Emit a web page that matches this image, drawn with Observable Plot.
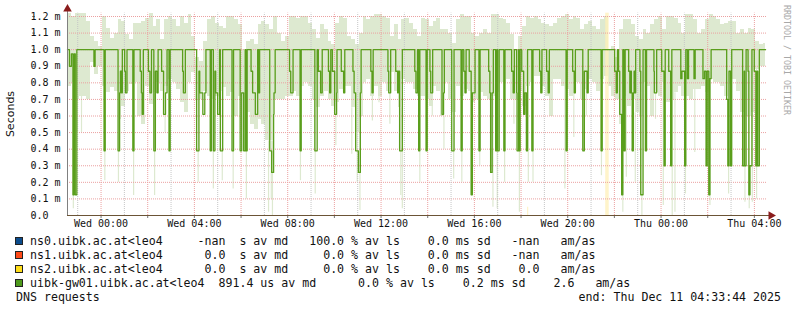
<!DOCTYPE html>
<html>
<head>
<meta charset="utf-8">
<script src="https://cdn.jsdelivr.net/npm/d3@7"></script>
<script src="https://cdn.jsdelivr.net/npm/@observablehq/plot@0.6"></script>
<style>
  html, body { margin: 0; padding: 0; background: #fff; }
  #wrap { position: relative; width: 797px; height: 311px; overflow: hidden; background: #fff; }
  #chart svg { display: block; }
  .mono { font-family: "DejaVu Sans Mono", monospace; }
  #ylabel { position: absolute; left: -39.5px; top: 106.5px; width: 100px; height: 14px; line-height: 14px;
            text-align: center; transform: rotate(-90deg); font: 11px "DejaVu Sans", sans-serif; color: #111; }
  #credit { position: absolute; left: 782px; top: 5px; writing-mode: vertical-rl; font: 8.3px "DejaVu Sans Mono", monospace;
            color: #a8a8a8; line-height: 9px; white-space: pre; }
  .lrow { position: absolute; left: 30px; height: 14px; line-height: 14px; font-size: 11.6px; white-space: pre; color: #111; }
  .lbox { position: absolute; left: 15px; width: 6px; height: 6px; border: 1px solid #222; }
</style>
</head>
<body>
<div id="wrap">
  <div id="chart"></div>
  <div id="ylabel">Seconds</div>
  <div id="credit">RRDTOOL / TOBI OETIKER</div>
  <div id="legend"></div>
</div>
<script>
// ---------- data ----------
const startMs = Date.UTC(2025, 11, 9, 22, 33, 44);   // Tue Dec 9 22:33:44
const endMs   = Date.UTC(2025, 11, 11, 4, 33, 44);   // Thu Dec 11 04:33:44

// median of uibk-gw01 (ms), change points in minutes since start
const medMinute = [0,5,10,14,17,20,24,68,71,94,97,130,134,136,139,141,147,149,153,168,171,187,190,192,195,208,212,216,222,226,230,233,242,247,252,256,261,264,296,298,303,332,338,340,348,353,356,367,370,375,379,381,386,391,393,399,423,427,444,448,453,457,459,462,472,476,483,489,492,494,520,525,530,531,534,571,574,580,598,601,636,642,645,651,655,671,674,677,681,687,692,693,704,710,713,734,737,741,748,753,755,780,783,786,824,826,831,844,849,851,854,861,893,896,900,903,906,922,925,932,934,939,963,967,969,988,994,1012,1015,1019,1022,1025,1033,1038,1041,1048,1058,1061,1083,1086,1088,1092,1095,1101,1104,1106,1110,1122,1125,1142,1146,1149,1155,1156,1160,1161,1164,1168,1173,1176,1180,1183,1194,1197,1214,1217,1220,1232,1236,1239,1282,1285,1299,1303,1306,1325,1329,1336,1339,1372,1375,1407,1411,1414,1417,1420,1425,1428,1431,1434,1443,1446,1448,1450,1452,1455,1457,1459,1461,1472,1474,1480,1486,1489,1508,1509,1515,1528,1534,1537,1546,1551,1554,1577,1580,1587,1590,1594,1597,1611,1614,1634,1638,1642,1645,1649,1652,1655,1695,1698,1701,1705,1708,1736,1740,1741,1745,1750,1752,1755,1760,1766,1770,1773,1775,1779,1795];
const medValue  = [1.0,0.9,0.975,0.125,0.975,0.125,1.0,0.9,1.0,0.39,1.0,0.39,0.74,0.87,0.74,1.0,0.87,0.74,1.0,0.39,1.0,0.87,0.74,0.61,1.0,0.87,0.74,1.0,0.39,0.87,0.74,1.0,0.87,0.61,0.74,1.0,0.39,1.0,0.87,0.74,1.0,0.39,0.87,0.74,0.61,0.74,1.0,0.39,1.0,0.39,0.87,0.74,0.61,1.0,0.39,1.0,0.39,1.0,0.39,0.74,0.39,1.0,0.39,1.0,0.87,0.74,0.61,1.0,0.74,1.0,0.39,0.26,0.61,0.74,1.0,0.87,0.74,1.0,0.39,1.0,0.39,1.0,0.87,0.74,1.0,0.87,0.74,1.0,0.87,0.61,0.74,1.0,0.87,0.74,1.0,0.87,0.74,0.39,0.26,0.74,1.0,0.87,0.74,1.0,0.87,0.74,1.0,0.87,0.74,0.87,0.39,1.0,0.87,0.74,1.0,0.39,1.0,0.39,1.0,0.87,0.74,1.0,0.61,0.74,1.0,0.39,1.0,0.39,1.0,0.87,0.74,1.0,0.87,0.125,0.74,1.0,0.39,1.0,0.87,0.74,0.26,0.74,1.0,0.39,1.0,0.39,1.0,0.39,1.0,0.87,0.74,1.0,0.74,0.39,1.0,0.39,1.0,0.87,0.61,0.74,0.39,1.0,0.39,1.0,0.87,0.74,1.0,0.87,0.74,1.0,0.39,1.0,0.87,0.74,1.0,0.39,0.87,0.74,1.0,0.39,1.0,0.87,0.74,1.0,0.87,0.61,0.125,1.0,0.39,1.0,0.87,0.74,0.87,0.74,0.39,0.74,0.87,0.74,1.0,0.87,0.125,1.0,0.39,1.0,0.87,0.74,1.0,0.87,0.30,1.0,0.87,0.30,1.0,0.825,0.87,0.30,1.0,0.825,1.0,0.825,1.0,0.825,0.87,0.30,0.87,0.125,0.825,1.0,0.70,0.30,0.87,0.30,1.0,0.30,0.87,0.30,1.0,0.87,0.125,0.30,1.0,0.87,0.30,0.87,0.30,1.0,1.0];

// smoke (ping spread) per 10-minute column, ms
const smokeHi = [1.22,1.2,1.22,1.22,1.22,1.17,1.08,1.05,1.02,1.2,1.13,1.07,1.1,1.18,1.17,1.09,1.06,1.16,1.16,1.17,1.19,1.22,1.14,1.18,
  1.06,1.18,1.2,1.18,1.14,1.2,1.16,1.21,1.08,0.95,0.93,1.05,1.18,1.2,1.16,1.14,1.13,1.2,1.2,1.18,1.15,1.0,1.05,1.06,1.03,
  1.15,1.17,1.15,1.12,1.2,1.1,1.05,1.08,1.2,1.2,1.19,1.2,1.2,1.16,1.12,1.07,1.15,1.12,1.05,1.03,1.16,1.2,1.19,1.08,1.06,1.03,
  1.1,1.2,1.18,1.2,1.21,1.21,1.2,1.19,1.08,1.15,1.06,1.18,1.19,1.16,1.12,1.08,1.19,1.18,1.14,1.17,1.19,1.12,1.12,1.1,1.04,
  1.18,1.21,1.2,1.2,1.1,1.08,1.1,1.12,1.1,1.21,1.21,1.19,1.18,1.16,1.09,1.0,1.08,1.14,1.2,1.19,1.2,1.18,1.16,1.15,1.14,
  1.16,1.19,1.2,1.21,1.18,1.2,1.19,1.12,1.15,1.17,1.14,1.12,1.18,1.2,1.0,1.02,0.95,1.12,1.18,1.18,1.15,1.08,1.06,1.12,1.1,
  1.15,1.18,1.2,1.12,1.2,1.2,1.19,1.16,1.1,1.21,1.21,1.18,1.1,1.12,1.18,1.21,1.2,1.18,1.15,1.16,1.17,1.17,1.1,1.12,1.1,1.13,1.12,1.05,1.03,1.04];
const smokeLo = [0.78,0.8,0.7,0.72,0.72,0.7,0.92,0.85,0.9,0.78,0.74,0.77,0.75,0.58,0.66,0.75,0.79,0.8,0.6,0.55,0.78,0.67,0.74,0.8,
  0.75,0.78,0.82,0.8,0.76,0.68,0.62,0.8,0.86,0.7,0.7,0.75,0.72,0.7,0.72,0.75,0.77,0.72,0.74,0.6,0.72,0.73,0.62,0.55,0.52,
  0.58,0.55,0.45,0.45,0.7,0.7,0.7,0.72,0.72,0.75,0.72,0.78,0.8,0.78,0.7,0.65,0.72,0.75,0.7,0.66,0.68,0.76,0.78,0.78,0.65,0.5,
  0.6,0.8,0.82,0.72,0.78,0.72,0.8,0.75,0.86,0.75,0.65,0.82,0.8,0.8,0.76,0.72,0.72,0.7,0.66,0.78,0.75,0.6,0.8,0.7,0.62,
  0.78,0.72,0.76,0.75,0.68,0.7,0.74,0.72,0.7,0.72,0.74,0.8,0.8,0.82,0.7,0.7,0.75,0.66,0.78,0.8,0.84,0.84,0.78,0.72,0.6,
  0.82,0.82,0.78,0.76,0.72,0.82,0.8,0.7,0.76,0.82,0.8,0.75,0.82,0.84,0.78,0.72,0.7,0.55,0.72,0.66,0.7,0.62,0.6,0.8,0.78,
  0.6,0.74,0.72,0.8,0.68,0.7,0.74,0.78,0.72,0.72,0.7,0.76,0.76,0.78,0.74,0.82,0.8,0.8,0.78,0.72,0.8,0.82,0.75,0.62,0.6,0.6,0.62,0.88,0.9,0.9];

// isolated low pings (minute, ms)
const spikeMinute = [15,25,36,96,131,170,224,251,336,375,398,426,460,517,524,527,599,637,690,731,745,752,784,801,829,857,861,906,938,968,993,1014,1038,1060,1094,1105,1124,1148,1162,1185,1197,1279,1302,1334,1373,1428,1437,1460,1477,1512,1532,1555,1562,1589,1613,1652,1700,1742,1753,1761,1772];
const spikeLo     = [0.04,0.5,0.5,0.21,0.2,0.12,0.12,0.5,0.2,0.16,0.21,0.16,0.1,0.02,0.1,0.0,0.21,0.13,0.42,0.37,0.2,0.03,0.57,0.68,0.55,0.12,0.04,0.2,0.6,0.4,0.22,0.2,0.12,0.3,0.05,0.04,0.2,0.55,0.02,0.2,0.2,0.16,0.47,0.6,0.24,0.02,0.23,0.2,0.0,0.58,0.06,0.0,0.02,0.13,0.38,0.06,0.13,0.08,0.04,0.08,0.1];

// ns2 smoke (minute ranges, ms)
const ns2Start = [1183, 1384];
const ns2End   = [1186, 1393];
const ns2Lo    = [0.0, 0.0];
const ns2Hi    = [0.05, 1.22];

const yTicks = [0,0.1,0.2,0.3,0.4,0.5,0.6,0.7,0.8,0.9,1.0,1.1,1.2];

const hostColors = ["#0b4c8c", "#ff4a18", "#ffde1a", "#4e9a1c"];
const legendLines = [
  "ns0.uibk.ac.at<leo4     -nan  s av md   100.0 % av ls    0.0 ms sd   -nan   am/as",
  "ns1.uibk.ac.at<leo4      0.0  s av md     0.0 % av ls    0.0 ms sd   -nan   am/as",
  "ns2.uibk.ac.at<leo4      0.0  s av md     0.0 % av ls    0.0 ms sd    0.0   am/as",
  "uibk-gw01.uibk.ac.at<leo4  891.4 us av md      0.0 % av ls    0.2 ms sd    2.6   am/as"
];
const footLeft = "DNS requests";
const footRight = "end: Thu Dec 11 04:33:44 2025";

// ---------- build ----------
const t = m => new Date(startMs + m * 60000);
const med = medMinute.map((m, i) => ({x: t(m), y: medValue[i]}));
const smoke = smokeHi.map((h, i) => ({x1: t(i * 10), x2: t(Math.min(i * 10 + 10, 1795)), y1: smokeLo[i], y2: h}));
const spikes = spikeMinute.map((m, i) => ({x: t(m), y1: spikeLo[i], y2: smokeLo[Math.min(Math.floor(m / 10), smokeLo.length - 1)]}));
const ns2 = ns2Start.map((s, i) => ({x1: t(s), x2: t(ns2End[i]), y1: ns2Lo[i], y2: ns2Hi[i]}));

const start = new Date(startMs), end = new Date(endMs);
const hours = d3.utcHour.every(1).range(start, end);
const major = hours.filter(d => d.getUTCHours() % 2 === 0);
const minor = hours.filter(d => d.getUTCHours() % 2 === 1);
const fmt = d3.utcFormat("%a %H:%M");

const gridRed = "#eba0a0";
const plot = Plot.plot({
  width: 797, height: 230,
  marginLeft: 67, marginRight: 30, marginTop: 16, marginBottom: 15,
  x: {type: "utc", domain: [start, end]},
  y: {domain: [0, 1.2]},
  style: {fontFamily: "DejaVu Sans Mono", fontSize: "10px", color: "#111", background: "#fff", overflow: "visible"},
  marks: [
    Plot.rect(smoke, {x1: "x1", x2: "x2", y1: "y1", y2: "y2", fill: "#dde9d0", shapeRendering: "crispEdges"}),
    Plot.ruleX(spikes, {x: "x", y1: "y1", y2: "y2", stroke: "#dde9d0", strokeWidth: 1.2}),
    Plot.rect(ns2, {x1: "x1", x2: "x2", y1: "y1", y2: "y2", fill: "#fff0b8", fillOpacity: 0.75}),
    Plot.gridY(yTicks.slice(1), {stroke: gridRed, strokeOpacity: 1, strokeDasharray: "1,1"}),
    Plot.gridX(minor, {stroke: "#c6c6c6", strokeOpacity: 1, strokeDasharray: "1,1", y1: 0, y2: 1.22}),
    Plot.gridX(major, {stroke: gridRed, strokeOpacity: 1, strokeDasharray: "1,1", y1: 0, y2: 1.22}),
    Plot.line(med, {x: "x", y: "y", curve: "step-after", stroke: "#5a9e1c", strokeWidth: 1.3}),
    Plot.axisY(yTicks, {tickSize: 3, tickPadding: 2, textAnchor: "start", dx: -32, stroke: "#888",
      tickFormat: v => v === 0 ? "0.0" : v.toFixed(1) + " m", label: null}),
    Plot.axisX(major, {tickSize: 3, tickPadding: 1, stroke: "#777",
      tickFormat: d => d.getUTCHours() % 4 === 0 ? fmt(d) : "", label: null}),
    Plot.ruleX([start], {y1: 0, y2: 1.23, stroke: "#808080"}),
    Plot.ruleY([0], {x1: start, x2: t(1806), stroke: "#6b5436"}),
    Plot.dot([{x: start, y: 1.245}], {x: "x", y: "y", symbol: "triangle", r: 3.2, fill: "#8a1c1c", stroke: "none"}),
    Plot.dot([{x: t(1809), y: 0}], {x: "x", y: "y", symbol: "triangle", r: 3.2, rotate: 90, fill: "#8a1c1c", stroke: "none"})
  ]
});
document.getElementById("chart").appendChild(plot);

// legend
const legend = document.getElementById("legend");
const rowCenters = [241, 255, 268.7, 283.3];
legendLines.forEach((line, i) => {
  const box = document.createElement("div");
  box.className = "lbox";
  box.style.top = (rowCenters[i] - 4) + "px";
  box.style.background = hostColors[i];
  legend.appendChild(box);
  const row = document.createElement("div");
  row.className = "lrow mono";
  row.style.top = (rowCenters[i] - 7) + "px";
  row.textContent = line;
  legend.appendChild(row);
});
const fl = document.createElement("div");
fl.className = "lrow mono";
fl.style.left = "16px";
fl.style.top = (296.7 - 7) + "px";
fl.textContent = footLeft;
legend.appendChild(fl);
const fr = document.createElement("div");
fr.className = "lrow mono";
fr.style.left = "auto";
fr.style.right = "16px";
fr.style.top = (296.7 - 7) + "px";
fr.textContent = footRight;
legend.appendChild(fr);
</script>
</body>
</html>
